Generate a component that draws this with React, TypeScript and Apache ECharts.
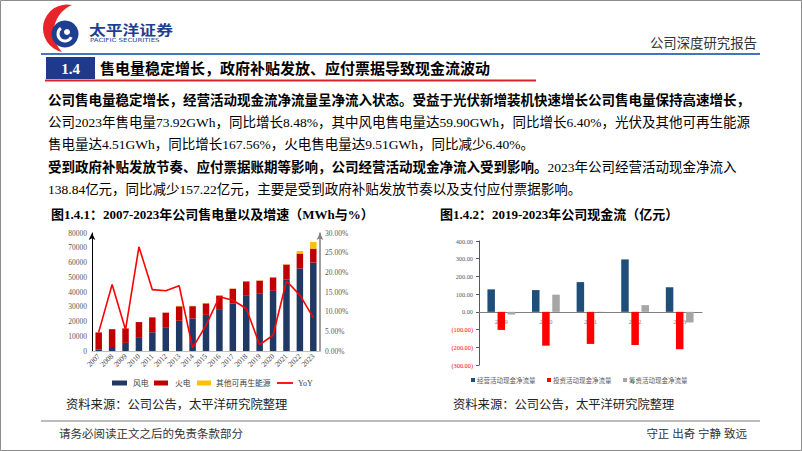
import React, { useEffect, useRef } from "react";
import * as echarts from "echarts";

// ---- Data: left chart (MWh, %) ----
const years = ["2007","2008","2009","2010","2011","2012","2013","2014","2015","2016","2017","2018","2019","2020","2021","2022","2023"];
const windPower = [1100, 2700, 5500, 8900, 12700, 15700, 20500, 22000, 24500, 28400, 32200, 37400, 38800, 40800, 48600, 56000, 59900];
const thermalPower = [11500, 12100, 9800, 10700, 10100, 10300, 9800, 8400, 7800, 9200, 10000, 9800, 8900, 9100, 10000, 10100, 9510];
const otherRenewable = [0, 0, 0, 0, 0, 0, 300, 200, 300, 300, 200, 200, 200, 200, 400, 1700, 4510];
const yoyGrowth = [4.8, 16.9, 5.4, 26.5, 15.6, 15.3, 16.6, 0.8, 6.5, 13.8, 12.9, 10.8, 1.6, 4.0, 17.8, 14.2, 8.48];

// ---- Data: right chart (亿元) ----
const cfYears = ["2019", "2020", "2021", "2022", "2023"];
const operatingCF = [127, 123, 168, 296.06, 138.84];
const investingCF = [-102, -191, -181, -187, -211];
const financingCF = [-15, 97, 1, 38, -60];

// ---- Legend labels ----
const leftLegend = ["风电", "火电", "其他可再生能源", "YoY"];
const rightLegend = ["经营活动现金净流量", "投资活动现金净流量", "筹资活动现金净流量"];

const SERIF = "'Liberation Serif','Times New Roman','Noto Sans CJK SC',serif";

const C_WIND = "#1F3864";
const C_FIRE = "#C00000";
const C_OTHER = "#FFC000";
const C_YOY = "#FF0000";
const C_OP = "#1F4E79";
const C_INV = "#FF0000";
const C_FIN = "#A6A6A6";

// right chart geometry
const R_TOP = 241;
const R_HEIGHT = 124;
const R_MIN = -300;
const R_MAX = 400;

function txt(x: number, y: number, text: string, opts: any = {}) {
  const align = opts.align || "left";
  const valign = opts.valign || "middle";
  return {
    type: "text",
    x,
    y,
    scaleX: opts.scaleX || 1,
    silent: true,
    style: {
      text,
      fill: opts.fill || "#000",
      fontSize: opts.fontSize || 13.5,
      fontWeight: opts.fontWeight || "normal",
      fontFamily: opts.fontFamily || SERIF,
      align,
      textAlign: align,
      verticalAlign: valign,
      textVerticalAlign: valign,
      rich: opts.rich,
    },
  };
}

export default function App() {
  const ref = useRef<HTMLDivElement>(null);

  useEffect(() => {
    if (!ref.current) return;
    echarts.graphic.registerShape(
      "logoCrescent",
      echarts.graphic.extendPath("M30,2 A24,24 0 1,0 20,49 A29,29 0 0,1 30,2 Z", {})
    );
    const chart = echarts.init(ref.current, undefined, { renderer: "svg" });

    const zeroOffset = -(R_HEIGHT * (0 - R_MIN)) / (R_MAX - R_MIN);

    const graphics: any[] = [
      { type: "rect", silent: true, shape: { x: 0.5, y: 0.5, width: 801, height: 450 }, style: { fill: "none", stroke: "#8c8c8c", lineWidth: 1 } },
      // logo
      { type: "logoCrescent", x: 42, y: 3, silent: true, style: { fill: "#E8232A" } },
      { type: "circle", silent: true, shape: { cx: 65, cy: 34, r: 13.5 }, style: { fill: "#1E3F8F" } },
      { type: "arc", silent: true, shape: { cx: 65, cy: 34, r: 7, startAngle: Math.PI * 0.15, endAngle: Math.PI * 1.3 }, style: { stroke: "#fff", lineWidth: 3, fill: "none" } },
      { type: "circle", silent: true, shape: { cx: 67, cy: 32, r: 3 }, style: { fill: "#fff" } },
      txt(89, 28.5, "太平洋证券", { fontSize: 14, fontWeight: "bold", fill: "#1E3F8F", fontFamily: "'Noto Sans CJK SC',sans-serif", scaleX: 1.2 }),
      txt(90, 39.5, "PACIFIC SECURITIES", { fontSize: 5.6, fill: "#1E3F8F", fontFamily: "'DejaVu Sans',sans-serif", scaleX: 1.25 }),
      txt(757, 43, "公司深度研究报告", { fontSize: 13.4, fill: "#333", align: "right" }),
      { type: "line", silent: true, shape: { x1: 41, y1: 54, x2: 760, y2: 54 }, style: { stroke: "#4472C4", lineWidth: 2 } },
      // section title
      { type: "rect", silent: true, shape: { x: 46, y: 57, width: 49, height: 22 }, style: { fill: "#1F3A8A" } },
      txt(70.5, 68.5, "1.4", { fontSize: 15, fontWeight: "bold", fill: "#fff", align: "center" }),
      txt(100, 68.5, "售电量稳定增长，政府补贴发放、应付票据导致现金流波动", { fontSize: 15, fontWeight: "bold" }),
      { type: "line", silent: true, shape: { x1: 45, y1: 80.5, x2: 536, y2: 80.5 }, style: { stroke: "#D9232D", lineWidth: 2 } },
      // body text
      txt(48, 100, "公司售电量稳定增长，经营活动现金流净流量呈净流入状态。受益于光伏新增装机快速增长公司售电量保持高速增长，", { fontWeight: "bold" }),
      txt(48, 122, "公司2023年售电量73.92GWh，同比增长8.48%，其中风电售电量达59.90GWh，同比增长6.40%，光伏及其他可再生能源"),
      txt(48, 144, "售电量达4.51GWh，同比增长167.56%，火电售电量达9.51GWh，同比减少6.40%。"),
      txt(48, 167, "{b|受到政府补贴发放节奏、应付票据账期等影响，公司经营活动现金净流入受到影响。}{n|2023年公司经营活动现金净流入}", {
        rich: {
          b: { fontSize: 13.5, fontWeight: "bold", fontFamily: SERIF, fill: "#000", color: "#000" },
          n: { fontSize: 13.5, fontWeight: "normal", fontFamily: SERIF, fill: "#000", color: "#000" },
        },
      }),
      txt(48, 189, "138.84亿元，同比减少157.22亿元，主要是受到政府补贴发放节奏以及支付应付票据影响。"),
      // chart titles
      txt(51, 214, "图1.4.1：2007-2023年公司售电量以及增速（MWh与%）", { fontSize: 13, fontWeight: "bold" }),
      txt(440, 214, "图1.4.2：2019-2023年公司现金流（亿元）", { fontSize: 13, fontWeight: "bold" }),
      // left legend
      { type: "rect", silent: true, shape: { x: 112, y: 380.5, width: 15, height: 5 }, style: { fill: C_WIND } },
      txt(133, 383, leftLegend[0], { fontSize: 7.8, fill: "#404040" }),
      { type: "rect", silent: true, shape: { x: 154, y: 380.5, width: 14, height: 5 }, style: { fill: C_FIRE } },
      txt(175, 383, leftLegend[1], { fontSize: 7.8, fill: "#404040" }),
      { type: "rect", silent: true, shape: { x: 197, y: 380.5, width: 14, height: 5 }, style: { fill: C_OTHER } },
      txt(216, 383, leftLegend[2], { fontSize: 7.8, fill: "#404040" }),
      { type: "line", silent: true, shape: { x1: 277, y1: 383, x2: 293, y2: 383 }, style: { stroke: C_YOY, lineWidth: 1.8 } },
      txt(298, 383, leftLegend[3], { fontSize: 8, fill: "#404040" }),
      // right legend
      { type: "rect", silent: true, shape: { x: 471, y: 378, width: 4, height: 4 }, style: { fill: C_OP } },
      txt(477, 380, rightLegend[0], { fontSize: 6.5, fill: "#595959" }),
      { type: "rect", silent: true, shape: { x: 547, y: 378, width: 4, height: 4 }, style: { fill: C_INV } },
      txt(553, 380, rightLegend[1], { fontSize: 6.5, fill: "#595959" }),
      { type: "rect", silent: true, shape: { x: 623, y: 378, width: 4, height: 4 }, style: { fill: C_FIN } },
      txt(629, 380, rightLegend[2], { fontSize: 6.5, fill: "#595959" }),
      // sources
      txt(66, 405, "资料来源：公司公告，太平洋研究院整理", { fontSize: 12.3, fill: "#222" }),
      txt(453, 405, "资料来源：公司公告，太平洋研究院整理", { fontSize: 12.3, fill: "#222" }),
      // footer
      { type: "line", silent: true, shape: { x1: 41, y1: 421, x2: 760, y2: 421 }, style: { stroke: "#a6a6a6", lineWidth: 1.5 } },
      txt(59, 434, "请务必阅读正文之后的免责条款部分", { fontSize: 11.5, fill: "#333" }),
      txt(747, 434, "守正 出奇 宁静 致远", { fontSize: 11.5, fill: "#333", align: "right" }),
    ];

    const option: any = {
      animation: false,
      backgroundColor: "#ffffff",
      grid: [
        { left: 92, top: 233, width: 228, height: 118 },
        { left: 479, top: R_TOP, width: 223, height: R_HEIGHT },
      ],
      xAxis: [
        {
          type: "category",
          gridIndex: 0,
          data: years,
          axisLine: { lineStyle: { color: "#bfbfbf", width: 1 } },
          axisTick: { show: false },
          axisLabel: { rotate: 45, interval: 0, fontSize: 7.5, color: "#404040", fontFamily: SERIF, margin: 4 },
        },
        {
          type: "category",
          gridIndex: 1,
          data: cfYears,
          position: "bottom",
          offset: zeroOffset,
          axisLine: { onZero: false, lineStyle: { color: "#7f7f7f", width: 1 } },
          axisTick: { show: false },
          axisLabel: { fontSize: 6.5, color: "#7f7f7f", fontFamily: SERIF, margin: 6 },
        },
      ],
      yAxis: [
        {
          type: "value",
          gridIndex: 0,
          min: 0,
          max: 80000,
          interval: 10000,
          axisLine: { show: true, symbol: ["none", "arrow"], symbolSize: [5, 7], lineStyle: { color: "#000", width: 1 } },
          axisTick: { show: false },
          splitLine: { show: false },
          axisLabel: { fontSize: 7.5, color: "#595959", fontFamily: SERIF, margin: 5, formatter: (v: number) => String(v) },
        },
        {
          type: "value",
          gridIndex: 0,
          position: "right",
          min: 0,
          max: 30,
          interval: 5,
          axisLine: { show: true, symbol: ["none", "arrow"], symbolSize: [5, 7], lineStyle: { color: "#7f7f7f", width: 1.5 } },
          axisTick: { show: false },
          splitLine: { show: false },
          axisLabel: { fontSize: 7.5, color: "#595959", fontFamily: SERIF, margin: 5, formatter: (v: number) => v.toFixed(2) + "%" },
        },
        {
          type: "value",
          gridIndex: 1,
          min: R_MIN,
          max: R_MAX,
          interval: 100,
          axisLine: { show: true, lineStyle: { color: "#595959", width: 1 } },
          axisTick: { show: true, length: 3, lineStyle: { color: "#595959" } },
          splitLine: { show: false },
          axisLabel: {
            margin: 6,
            formatter: (v: number) => (v < 0 ? `{n|(${Math.abs(v).toFixed(2)})}` : `{p|${v.toFixed(2)}}`),
            rich: {
              n: { color: "#FF0000", fontSize: 6.3, fontFamily: SERIF },
              p: { color: "#595959", fontSize: 6.3, fontFamily: SERIF },
            },
          },
        },
      ],
      series: [
        { name: leftLegend[0], type: "bar", xAxisIndex: 0, yAxisIndex: 0, stack: "power", barWidth: 6.5, data: windPower, itemStyle: { color: C_WIND } },
        { name: leftLegend[1], type: "bar", xAxisIndex: 0, yAxisIndex: 0, stack: "power", barWidth: 6.5, data: thermalPower, itemStyle: { color: C_FIRE } },
        { name: leftLegend[2], type: "bar", xAxisIndex: 0, yAxisIndex: 0, stack: "power", barWidth: 6.5, data: otherRenewable, itemStyle: { color: C_OTHER } },
        { name: leftLegend[3], type: "line", xAxisIndex: 0, yAxisIndex: 1, data: yoyGrowth, symbol: "none", lineStyle: { color: C_YOY, width: 1.6 }, itemStyle: { color: C_YOY }, z: 5 },
        { name: rightLegend[0], type: "bar", xAxisIndex: 1, yAxisIndex: 2, barWidth: 7.5, barGap: "35%", data: operatingCF, itemStyle: { color: C_OP } },
        { name: rightLegend[1], type: "bar", xAxisIndex: 1, yAxisIndex: 2, barWidth: 7.5, barGap: "35%", data: investingCF, itemStyle: { color: C_INV } },
        { name: rightLegend[2], type: "bar", xAxisIndex: 1, yAxisIndex: 2, barWidth: 7.5, barGap: "35%", data: financingCF, itemStyle: { color: C_FIN } },
      ],
      graphic: { elements: graphics },
    };

    chart.setOption(option);
    return () => chart.dispose();
  }, []);

  return (
    <div
      ref={ref}
      style={{ position: "absolute", left: 0, top: 0, width: 802, height: 451, background: "#fff" }}
    />
  );
}
